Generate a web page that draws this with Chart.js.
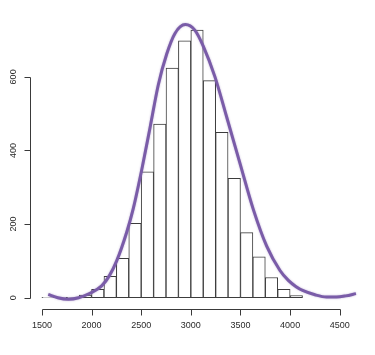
<!DOCTYPE html>
<html>
<head>
<meta charset="utf-8">
<script src="https://cdn.jsdelivr.net/npm/chart.js@4"></script>
<style>
html,body{margin:0;padding:0;background:#fff;}
canvas{display:block;}
</style>
</head>
<body>
<canvas id="c" width="375" height="355"></canvas>
<script>
// Histogram bins (left edges, width 125) and counts
const binStarts = [1500,1625,1750,1875,2000,2125,2250,2375,2500,2625,2750,2875,3000,3125,3250,3375,3500,3625,3750,3875,4000];
const binWidth = 125;
const counts = [1,1,1,7,23,58,107,202,342,472,624,698,727,590,449,324,177,111,55,23,6];

// Fitted curve
const curveX = [1564,1660,1766,1870,1984,2102,2180,2253,2354,2420,2505,2589,2672,2757,2840,2945,3040,3126,3243,3361,3495,3629,3764,3898,3982,4060,4132,4250,4367,4467,4560,4663];
const curveY = [9,0,-4,0,12,32,60,100,178,242,347,462,578,662,718,742,727,683,600,491,365,240,140,74,47,30,19,8,2,2,5,11];

// Axis ticks
const xTicks = [1500,2000,2500,3000,3500,4000,4500];
const yTicks = [0,200,400,600];

const barData = binStarts.map((s,i)=>({x:s+binWidth/2, y:counts[i]}));
const lineData = curveX.map((x,i)=>({x:x, y:curveY[i]}));

const axisColor = '#3a3a3a';
const fontSpec = '9px "Liberation Sans", Arial, sans-serif';

const rAxes = {
  id:'rAxes',
  afterDraw(chart){
    const ctx = chart.ctx;
    const xs = chart.scales.x, ys = chart.scales.y;
    const area = chart.chartArea;
    ctx.save();
    ctx.strokeStyle = axisColor;
    ctx.lineWidth = 1;
    ctx.fillStyle = '#2a2a2a';
    ctx.font = fontSpec;
    // x axis
    const xb = Math.round(area.bottom)+0.5;
    const x0 = xs.getPixelForValue(xTicks[0]), x1 = xs.getPixelForValue(xTicks[xTicks.length-1]);
    ctx.beginPath();
    ctx.moveTo(Math.round(x0)+0.5, xb); ctx.lineTo(Math.round(x1)+0.5, xb);
    xTicks.forEach(t=>{
      const p = Math.round(xs.getPixelForValue(t))+0.5;
      ctx.moveTo(p, xb); ctx.lineTo(p, xb+6);
    });
    ctx.stroke();
    ctx.textAlign='center'; ctx.textBaseline='middle';
    xTicks.forEach(t=>{
      ctx.fillText(String(t), xs.getPixelForValue(t), xb+16);
    });
    // y axis
    const yl = Math.round(area.left)+0.5;
    const y0 = ys.getPixelForValue(yTicks[0]), y1 = ys.getPixelForValue(yTicks[yTicks.length-1]);
    ctx.beginPath();
    ctx.moveTo(yl, Math.round(y0)+0.5); ctx.lineTo(yl, Math.round(y1)+0.5);
    yTicks.forEach(t=>{
      const p = Math.round(ys.getPixelForValue(t))+0.5;
      ctx.moveTo(yl, p); ctx.lineTo(yl-6, p);
    });
    ctx.stroke();
    yTicks.forEach(t=>{
      const p = ys.getPixelForValue(t);
      ctx.save();
      ctx.translate(area.left-16.5, p);
      ctx.rotate(-Math.PI/2);
      ctx.fillText(String(t), 0, 0);
      ctx.restore();
    });
    ctx.restore();
  }
};

const glow = {
  id:'glow',
  beforeDatasetDraw(chart, args){
    if(args.index===0){
      chart.ctx.save();
      chart.ctx.shadowColor='rgba(110,80,160,0.45)';
      chart.ctx.shadowBlur=2;
    }
  },
  afterDatasetDraw(chart, args){
    if(args.index===0){ chart.ctx.restore(); }
  }
};

new Chart(document.getElementById('c'), {
  type:'bar',
  data:{
    datasets:[
      {
        type:'line',
        data:lineData,
        borderColor:'#7a5ca8',
        borderWidth:3,
        pointRadius:0,
        cubicInterpolationMode:'monotone',
        fill:false,
        order:0
      },
      {
        type:'bar',
        data:barData,
        backgroundColor:'#ffffff',
        borderColor:'#3c3c3c',
        borderWidth:1,
        borderSkipped:false,
        barPercentage:1,
        categoryPercentage:1,
        order:1
      }
    ]
  },
  options:{
    responsive:false,
    devicePixelRatio:1,
    animation:false,
    layout:{padding:{left:30,right:13,top:4,bottom:46}},
    plugins:{legend:{display:false},tooltip:{enabled:false}},
    scales:{
      x:{type:'linear',min:1380,max:4724,offset:false,display:false},
      y:{type:'linear',min:-30.7,max:798,display:false}
    }
  },
  plugins:[rAxes, glow]
});
</script>
</body>
</html>
